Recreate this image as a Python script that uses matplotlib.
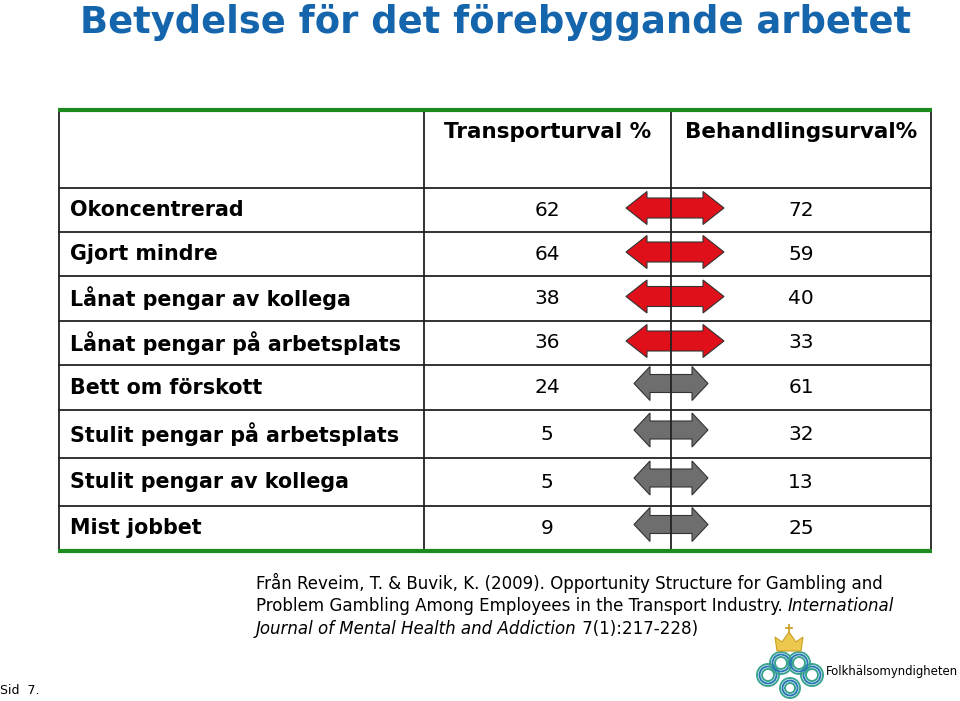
"""
Betydelse för det förebyggande arbetet - table slide with comparison arrows
"""

import matplotlib.pyplot as plt
from matplotlib.patches import Polygon, Circle

# data
title = "Betydelse för det förebyggande arbetet"
col_headers = ["Transporturval %", "Behandlingsurval%"]
row_labels = ["Okoncentrerad", "Gjort mindre", "Lånat pengar av kollega",
              "Lånat pengar på arbetsplats", "Bett om förskott",
              "Stulit pengar på arbetsplats", "Stulit pengar av kollega",
              "Mist jobbet"]
transport = [62, 64, 38, 36, 24, 5, 5, 9]
behandling = [72, 59, 40, 33, 61, 32, 13, 25]
significant = [True, True, True, True, False, False, False, False]

W, H = 960, 701
fig = plt.figure(figsize=(W / 100, H / 100), dpi=100, facecolor='white')
ax = fig.add_axes([0, 0, 1, 1])
ax.set_xlim(0, W)
ax.set_ylim(H, 0)
ax.axis('off')

BLUE = '#1565ad'
GREEN = '#1c8a1c'
RED = '#e0101a'
GREY = '#6e6e6e'

# title
ax.text(80, 33, title, color=BLUE, fontsize=26.6, fontweight='bold',
        va='baseline', ha='left', family='DejaVu Sans')

# table geometry
x_left, x_c1, x_c2, x_right = 59, 424, 671, 931
y_top = 110
row_edges = [188, 232, 276, 321, 365, 410, 458, 506, 551]

# horizontal row lines
for y in row_edges[:-1]:
    ax.plot([x_left, x_right], [y, y], color='#222222', lw=1.3, zorder=2)
# vertical borders
for x in [x_left, x_c1, x_right]:
    ax.plot([x, x], [y_top, row_edges[-1]], color='#222222', lw=1.3, zorder=2)
ax.plot([x_c2, x_c2], [y_top, row_edges[-1]], color='#222222', lw=1.3, zorder=5)
# green top/bottom rules
for y in [y_top, row_edges[-1]]:
    ax.plot([x_left - 1, x_right + 1], [y, y], color=GREEN, lw=3, zorder=6,
            solid_capstyle='butt')

# headers
for xc, hdr in zip([(x_c1 + x_c2) / 2, (x_c2 + x_right) / 2], col_headers):
    ax.text(xc, 132, hdr, fontsize=15.5, fontweight='bold', ha='center',
            va='center', family='DejaVu Sans')


def double_arrow(cx, cy, w, hl, hh, sh, color):
    l, r = cx - w / 2, cx + w / 2
    pts = [(l, cy), (l + hl, cy - hh), (l + hl, cy - sh), (r - hl, cy - sh),
           (r - hl, cy - hh), (r, cy), (r - hl, cy + hh), (r - hl, cy + sh),
           (l + hl, cy + sh), (l + hl, cy + hh)]
    ax.add_patch(Polygon(pts, closed=True, facecolor=color,
                         edgecolor='#333333', lw=0.8, zorder=4))


# rows
for i, (lab, t, b, sig) in enumerate(zip(row_labels, transport, behandling,
                                         significant)):
    yc = (row_edges[i] + row_edges[i + 1]) / 2
    ax.text(70, yc, lab, fontsize=14.9, fontweight='bold', ha='left',
            va='center', family='DejaVu Sans')
    ax.text(547, yc, str(t), fontsize=14.5, ha='center', va='center',
            family='DejaVu Sans')
    ax.text(801, yc, str(b), fontsize=14.5, ha='center', va='center',
            family='DejaVu Sans')
    if sig:
        double_arrow(675, yc - 2, 98, 21, 16.5, 10, RED)
    else:
        double_arrow(671, yc - 4, 74, 16, 17, 9, GREY)

# citation, mixed regular/italic pieces
renderer = fig.canvas.get_renderer()
cite_lines = [
    [("Från Reveim, T. & Buvik, K. (2009). Opportunity Structure for Gambling and", 'normal')],
    [("Problem Gambling Among Employees in the Transport Industry. ", 'normal'),
     ("International", 'italic')],
    [("Journal of Mental Health and Addiction", 'italic'),
     (" 7(1):217-228)", 'normal')],
]
for k, pieces in enumerate(cite_lines):
    x = 256
    y = 583 + k * 23
    for txt, style in pieces:
        t = ax.text(x, y, txt, fontsize=13.3, style=style, ha='left',
                    va='center', family='DejaVu Sans', stretch='condensed')
        bb = t.get_window_extent(renderer=renderer)
        x += bb.width

# slide number
ax.text(0, 690, "Sid  7.", fontsize=9, ha='left', va='center',
        family='DejaVu Sans')

# logo (approximation): interlaced rings below a crown
lobes = [(768, 675, 11), (812, 675, 11), (790, 688, 10),
         (781, 663, 11), (799, 663, 11)]
for cx, cy, r in lobes:
    for dr, c in [(0, '#3aa58f'), (-2.5, '#2676b8'), (-5, '#3aa58f')]:
        ax.add_patch(Circle((cx, cy), r + dr, fill=False, edgecolor=c,
                            lw=1.4, zorder=3))
crown = Polygon([(777, 651), (775, 637), (782, 642), (789, 632), (796, 642),
                 (803, 637), (801, 651)], closed=True, facecolor='#edc84e',
                edgecolor='#c9a227', lw=0.8, zorder=3)
ax.add_patch(crown)
ax.plot([789, 789], [625, 633], color='#c9a227', lw=1.3)
ax.plot([786, 792], [628, 628], color='#c9a227', lw=1.3)
ax.text(826, 672, "Folkhälsomyndigheten", fontsize=9.4, ha='left',
        va='center', family='DejaVu Sans', stretch='condensed')

fig.savefig('out.png', dpi=100, facecolor='white')
